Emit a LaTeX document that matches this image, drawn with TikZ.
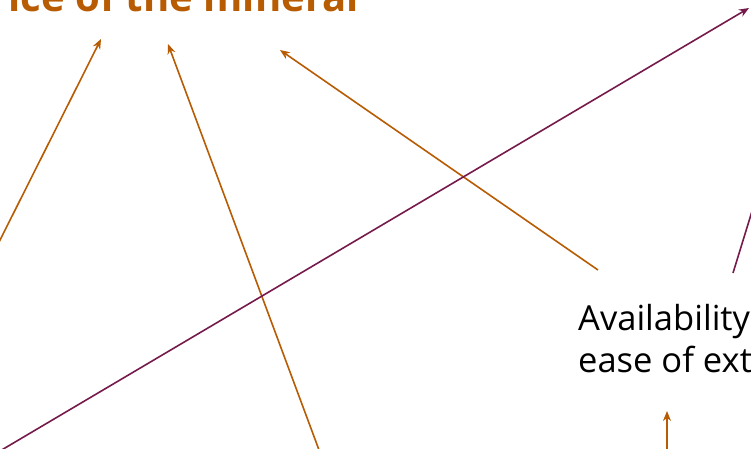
\documentclass[tikz,border=0pt]{standalone}
\usepackage{fontspec}
\setmainfont{Open Sans}
\usetikzlibrary{arrows.meta}
\definecolor{ochre}{RGB}{184,92,4}
\definecolor{plum}{RGB}{117,26,74}
\tikzset{
  oarrow/.style={draw=ochre, line width=1.6pt, -{Stealth[length=10pt,width=8pt]}},
  parrow/.style={draw=plum, line width=1.6pt, -{Stealth[length=10pt,width=8pt]}},
  pline/.style={draw=plum, line width=1.6pt},
  titletext/.style={text=ochre, font=\fontsize{40}{44}\selectfont\bfseries, inner sep=0pt, anchor=base east},
  bodytext/.style={text=black, font=\fontsize{34.5}{42}\selectfont, inner sep=0pt, anchor=base west}
}
\begin{document}
\begin{tikzpicture}[x=1pt,y=-1pt]
\useasboundingbox (0,0) rectangle (751,448);
\clip (0,0) rectangle (751,448);
\fill[white] (0,0) rectangle (751,448);
\node[titletext] (title) at (359,11) {Price of the mineral};
\node[bodytext] (avail) at (578,330) {Availability and};
\node[bodytext] (ease) at (578,372) {ease of extraction};
% coordinates
\coordinate (t1) at (101,39);
\coordinate (t2) at (168,44);
\coordinate (t3) at (280,50);
\coordinate (t4) at (749,8);
\coordinate (s1) at (-10,260);
\coordinate (s2) at (322,458);
\coordinate (s3) at (598,270);
\coordinate (s4) at (-6,454.5);
\coordinate (s5) at (733,273);
\coordinate (e5) at (757,195);
\coordinate (s6) at (667,460);
\coordinate (t6) at (667,411);
\draw[oarrow] (s1) -- (t1);
\draw[oarrow] (s2) -- (t2);
\draw[oarrow] (s3) -- (t3);
\draw[oarrow] (s6) -- (t6);
\draw[parrow] (s4) -- (t4);
\draw[pline] (s5) -- (e5);
\end{tikzpicture}
\end{document}
